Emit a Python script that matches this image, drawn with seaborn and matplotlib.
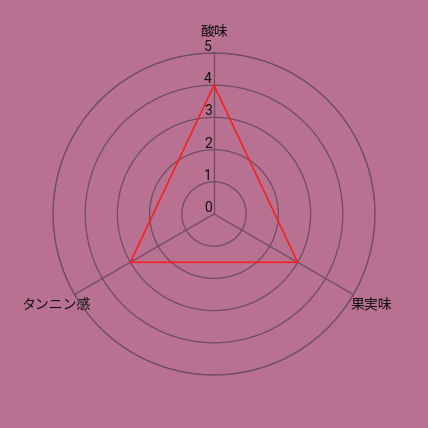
import numpy as np
import pandas as pd
import matplotlib
matplotlib.use("Agg")
import matplotlib.pyplot as plt
import matplotlib.transforms as mtransforms
import seaborn as sns

categories = ["酸味", "果実味", "タンニン感"]
values = [4, 3, 3]
r_ticks = [0, 1, 2, 3, 4, 5]
r_tick_labels = ["0", "1", "2", "3", "4", "5"]

BG = "#b87190"
GRID = "#6e4d60"

sns.set_style("white")
plt.rcParams["font.family"] = ["Noto Sans CJK JP", "DejaVu Sans"]

fig = plt.figure(figsize=(4.28, 4.28), dpi=100, facecolor=BG)
ax = fig.add_axes([53/428, 53/428, 322/428, 322/428], projection="polar")
ax.set_facecolor(BG)
ax.set_theta_zero_location("N")
ax.set_theta_direction(-1)

n = len(categories)
angles = [2*np.pi*i/n for i in range(n)]
df = pd.DataFrame({"theta": angles + angles[:1], "r": values + values[:1]})
sns.lineplot(data=df, x="theta", y="r", sort=False, ax=ax, color="#ff1a1a",
             linewidth=1.1, estimator=None)

ax.set_ylim(0, 5)
ax.set_yticks(r_ticks[1:])
ax.set_yticklabels([])
ax.set_xticks(angles)
ax.set_xticklabels(categories, fontsize=10, color="#111111")
ax.tick_params(axis="x", pad=4.5)
ax.set_xlabel("")
ax.set_ylabel("")
ax.grid(True, color=GRID, linewidth=0.9)
ax.spines["polar"].set_color(GRID)
ax.spines["polar"].set_linewidth(0.9)

off = mtransforms.offset_copy(ax.transData, fig=fig, x=-6, y=6, units="dots")
for r, lab in zip(r_ticks, r_tick_labels):
    ax.text(0, r, lab, transform=off, ha="center", va="center", fontsize=10,
            color="#111111", family=["Roboto", "DejaVu Sans"])

fig.savefig("out.png", dpi=100, facecolor=BG)
